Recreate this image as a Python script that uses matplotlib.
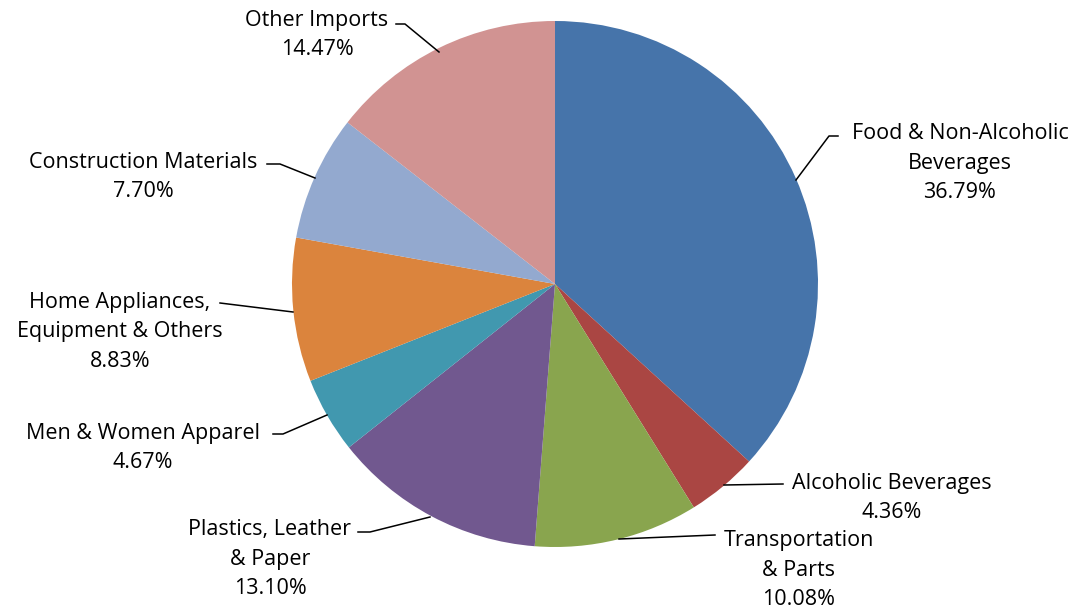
import matplotlib.pyplot as plt

# Import shares (%)
categories = ['Food & Non-Alcoholic\nBeverages', 'Alcoholic Beverages',
              'Transportation\n& Parts', 'Plastics, Leather\n& Paper',
              'Men & Women Apparel', 'Home Appliances,\nEquipment & Others',
              'Construction Materials', 'Other Imports']
shares = [36.79, 4.36, 10.08, 13.10, 4.67, 8.83, 7.70, 14.47]
colors = ['#4674AA', '#AA4643', '#89A54E', '#71588F',
          '#4198AF', '#DB843D', '#93A9CF', '#D19392']

# label text centres and leader paths (pixel space)
label_pos = [(960, 163), (892, 498), (799, 570), (270, 559),
             (143, 448), (120, 332), (143, 177), (317, 35)]
leaders = [
    [(796, 180), (829, 136), (838, 136)],
    [(724, 485), (783, 484)],
    [(619, 539), (715, 535)],
    [(358, 532), (370, 532), (430, 517)],
    [(273, 434), (283, 434), (327, 415)],
    [(220, 303), (293, 312)],
    [(267, 164), (280, 164), (315, 178)],
    [(396, 24), (405, 24), (439, 52)],
]

fig = plt.figure(figsize=(10.85, 6.13), dpi=100)
ax = fig.add_axes([0, 0, 1, 1])

ax.pie(shares, colors=colors, startangle=-90, counterclock=True,
       center=(555, 284), radius=263, wedgeprops={'linewidth': 0})
ax.set_xlim(0, 1085)
ax.set_ylim(613, 0)
ax.set_aspect('equal')
ax.axis('off')

for cat, val, (x, y), path in zip(categories, shares, label_pos, leaders):
    ax.text(x, y, '%s\n%.2f%%' % (cat, val), ha='center', va='center',
            fontsize=15.5, family='Open Sans', linespacing=1.52, color='black')
    xs = [p[0] for p in path]
    ys = [p[1] for p in path]
    ax.plot(xs, ys, color='black', linewidth=1.1)

fig.savefig('out.png', dpi=100)
